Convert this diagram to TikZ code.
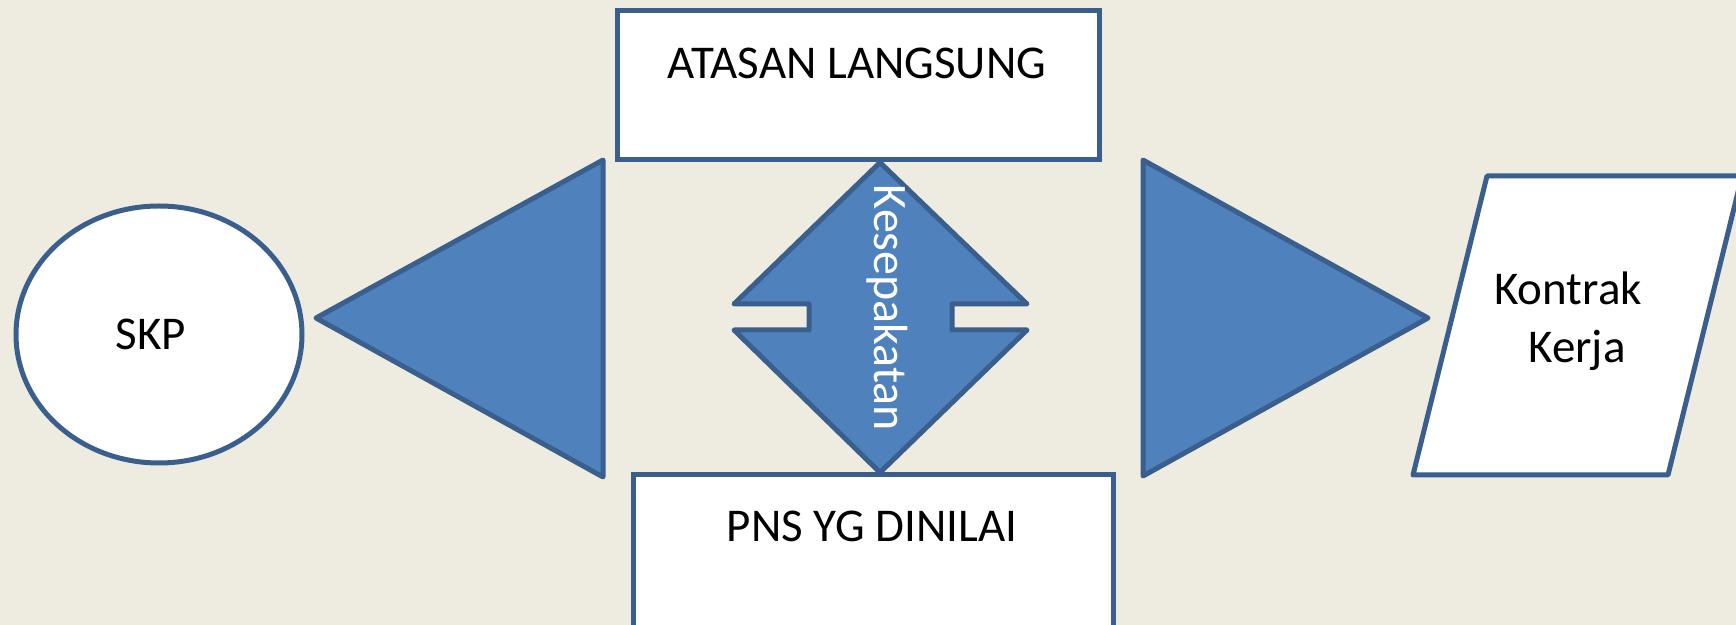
\documentclass[tikz,border=0pt]{standalone}
\usepackage{fontspec}
\setmainfont{Carlito}
\usetikzlibrary{shapes.geometric}
\definecolor{bgcol}{HTML}{EEECE1}
\definecolor{edgecol}{HTML}{3A5F8D}
\definecolor{fillcol}{HTML}{4F81BD}
\tikzset{
  box/.style={draw=edgecol, line width=2.5pt, fill=white},
  blok/.style={draw=edgecol, line width=2.5pt, fill=fillcol, line join=round},
  lbl/.style={font=\fontsize{23.5}{28}\selectfont, inner sep=0pt},
}
\begin{document}
\begin{tikzpicture}[x=0.5pt, y=-0.5pt]
    % Draw the background
    \fill[bgcol] (0,0) rectangle (1736,625);
    \clip (0,0) rectangle (1736,625);
    % Draw the two boxes
    \node[box, minimum width=241pt, minimum height=74.5pt] (atasan) at (858,85.5) {};
    \node[lbl, anchor=base] at (857,79) {ATASAN LANGSUNG};
    \node[box, minimum width=240pt, minimum height=112.5pt] (pns) at (873,587.5) {};
    \node[lbl, anchor=base] at (872,542) {PNS YG DINILAI};
    % Draw the double arrow between them
    \draw[blok] (atasan.south -| 880,0) -- (1027,304) -- (952,304) -- (952,330) -- (1027,330)
        -- (pns.north -| 880,0) -- (734,330) -- (809,330) -- (809,304) -- (734,304) -- cycle;
    \node[lbl, font=\fontsize{24}{28}\selectfont, rotate=-90, text=white] (sepakat) at (887,308) {Kesepakatan};
    % Draw the circle on the left
    \node[box, ellipse, minimum width=143pt, minimum height=128.5pt] (skp) at (159,334.5) {};
    \node[lbl, anchor=base] at (151,350) {SKP};
    % Draw the left triangle
    \draw[blok] (316,318) -- (603,160) -- (603,477) -- cycle;
    % Draw the right triangle
    \draw[blok] (1143,160) -- (1428,318) -- (1143,476) -- cycle;
    % Draw the parallelogram on the right
    \draw[box, line join=round] (1413,475) -- (1668,475) -- (1742,176) -- (1487,176) -- cycle;
    \node[lbl, anchor=base] (kontrak) at (1568,305) {Kontrak};
    \node[lbl, anchor=base] (kerja) at (1577,363) {Kerja};
\end{tikzpicture}
\end{document}
